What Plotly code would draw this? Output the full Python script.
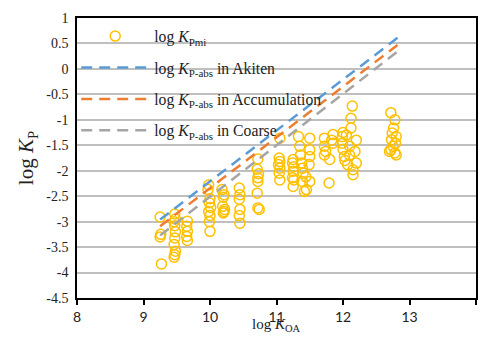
import plotly.graph_objects as go

# Scatter data: log KOA vs log KPmi
koa = [9.25, 9.26, 9.25, 9.27,
       9.47, 9.48, 9.46, 9.47, 9.48, 9.47, 9.46, 9.48, 9.47, 9.46,
       9.66, 9.65, 9.66, 9.65, 9.66,
       9.98, 9.97, 10.0, 9.99, 10.01, 9.98, 10.0, 9.99, 10.0,
       10.18, 10.21, 10.2, 10.19, 10.22, 10.2, 10.21,
       10.44, 10.45, 10.44, 10.45, 10.44, 10.45,
       10.72, 10.71, 10.73, 10.72, 10.72, 10.71, 10.72, 10.74,
       11.05, 11.04, 11.05, 11.03, 11.05, 11.04, 11.05,
       11.25, 11.24, 11.26, 11.25, 11.24, 11.26, 11.25,
       11.33, 11.35, 11.36, 11.38, 11.39, 11.4, 11.39, 11.42, 11.5, 11.5, 11.5, 11.49, 11.5, 11.45, 11.44,
       11.72, 11.72, 11.72, 11.8, 11.85, 11.85, 11.79, 11.74, 11.83,
       11.99, 11.99, 12.0, 12.02, 12.03, 12.07, 12.1, 12.1, 12.15, 12.15, 12.18, 12.2, 12.2, 12.14, 12.12, 12.12, 12.05, 12.0,
       12.72, 12.78, 12.76, 12.74, 12.8, 12.73, 12.79, 12.75, 12.72, 12.78, 12.8, 12.7]
kp = [-2.91, -3.25, -3.30, -3.83,
      -2.85, -2.95, -3.00, -3.08, -3.20, -3.32, -3.45, -3.58, -3.65, -3.70,
      -2.99, -3.09, -3.19, -3.29, -3.37,
      -2.28, -2.37, -2.55, -2.63, -2.72, -2.80, -2.88, -3.00, -3.19,
      -2.37, -2.47, -2.52, -2.70, -2.76, -2.83, -2.80,
      -2.34, -2.47, -2.56, -2.76, -2.88, -3.03,
      -1.77, -1.97, -2.06, -2.14, -2.21, -2.44, -2.73, -2.76,
      -1.36, -1.75, -1.82, -1.88, -1.95, -2.05, -2.18,
      -1.78, -1.85, -1.92, -2.01, -2.14, -2.18, -2.31,
      -1.33, -1.52, -1.69, -1.85, -1.95, -2.05, -2.21, -2.41, -1.36, -1.59, -1.72, -1.88, -2.21, -2.37, -2.12,
      -1.36, -1.52, -1.69, -1.78, -1.29, -1.46, -2.24, -1.62, -1.40,
      -1.33, -1.46, -1.58, -1.72, -1.80, -1.88, -1.52, -1.69, -1.98, -2.08, -1.62, -1.85, -1.40, -0.73, -0.97, -1.16, -1.30, -1.25,
      -0.86, -1.00, -1.16, -1.26, -1.33, -1.39, -1.46, -1.52, -1.59, -1.65, -1.69, -1.62]

# Model lines: log KP-abs
line_x = [9.25, 12.82]
akiten_y = [-2.96, 0.61]
accum_y = [-3.09, 0.47]
coarse_y = [-3.27, 0.34]

x_ticks = [8, 9, 10, 11, 12, 13, 14]
y_ticks = [1, 0.5, 0, -0.5, -1, -1.5, -2, -2.5, -3, -3.5, -4, -4.5]
y_ticktext = ["1", "0.5", "0", "-0.5", "-1", "-1.5", "-2", "-2.5", "-3", "-3.5", "-4", "-4.5"]

serif = "Liberation Serif"

fig = go.Figure()
fig.add_trace(go.Scatter(
    x=koa, y=kp, mode="markers", name="log <i>K</i><sub>Pmi</sub>",
    legendgroup="a",
    marker=dict(symbol="circle-open", size=10, color="#FFC000", line=dict(width=1.5, color="#FFC000"))))
for nm, yy, col, g in [("log <i>K</i><sub>P-abs</sub> in Akiten", akiten_y, "#5B9BD5", "b"),
                       ("log <i>K</i><sub>P-abs</sub> in Accumulation", accum_y, "#ED7D31", "c"),
                       ("log <i>K</i><sub>P-abs</sub> in Coarse", coarse_y, "#A5A5A5", "d")]:
    fig.add_trace(go.Scatter(x=line_x, y=yy, mode="lines", name=nm, legendgroup=g,
                             line=dict(color=col, width=2.5, dash="11px,7px")))

fig.update_layout(
    width=482, height=338,
    margin=dict(l=77, r=6, t=18, b=40, autoexpand=False),
    paper_bgcolor="white", plot_bgcolor="white",
    showlegend=True,
    legend=dict(x=-0.002, y=0.995, xanchor="left", yanchor="top", bgcolor="rgba(0,0,0,0)",
                font=dict(family=serif, size=15.7, color="#222"),
                tracegroupgap=8, itemwidth=68),
    xaxis=dict(range=[8, 14], tickvals=x_ticks, showgrid=False, zeroline=False, automargin=False,
               showline=True, mirror=True, linecolor="black", linewidth=1.5,
               ticks="outside", ticklen=5, tickcolor="black", tickwidth=1.5,
               tickfont=dict(family="Lato", size=14, color="#222")),
    yaxis=dict(range=[-4.5, 1], tickvals=y_ticks, ticktext=y_ticktext, automargin=False,
               showgrid=True, gridcolor="#BFBFBF", gridwidth=1.5, zeroline=False,
               showline=True, mirror=True, linecolor="black", linewidth=1.5,
               ticks="", ticklabelstandoff=4, tickfont=dict(family=serif, size=14, color="#222")),
    annotations=[
        dict(text="log <i>K</i><sub>OA</sub>", xref="paper", yref="paper", x=0.5, y=-0.098,
             xanchor="center", yanchor="middle", showarrow=False,
             font=dict(family=serif, size=15, color="#222")),
        dict(text="log <i>K</i><sub>P</sub>", xref="paper", yref="paper", x=-0.125, y=0.5,
             xanchor="center", yanchor="middle", textangle=-90, showarrow=False,
             font=dict(family=serif, size=21, color="#222")),
    ],
)
fig.write_html("out.html", config={"displayModeBar": False},
               post_script="document.body.style.margin='0';document.body.style.overflow='hidden';")
